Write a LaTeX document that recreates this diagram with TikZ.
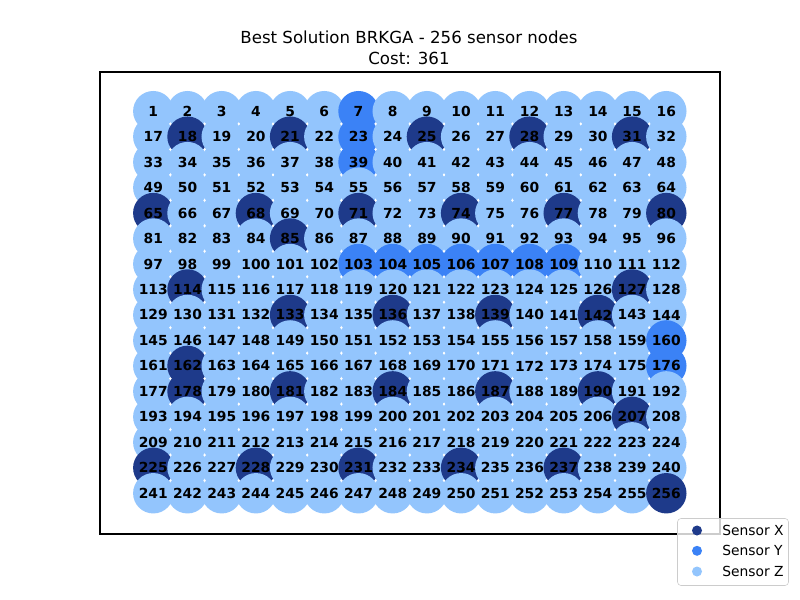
\documentclass[tikz,border=0pt]{standalone}
\usepackage{fontspec}
\setmainfont{DejaVu Sans}
\definecolor{sx}{HTML}{1E3A8A}
\definecolor{sy}{HTML}{3B82F6}
\definecolor{sz}{HTML}{93C5FD}
\begin{document}
\begin{tikzpicture}[x=0.01in,y=-0.01in,
  dot/.style={circle,inner sep=0pt,minimum size=0.404in,draw=none},
  lbl/.style={font=\fontsize{10}{12}\selectfont\bfseries,inner sep=0pt},
  ttl/.style={font=\fontsize{12}{14}\selectfont,inner sep=0pt},
  legdot/.style={circle,inner sep=0pt,minimum size=0.1in,draw=none},
  legtxt/.style={anchor=west,font=\fontsize{10}{12}\selectfont,inner sep=0pt}]
\useasboundingbox[fill=white] (0,0) rectangle (800,600);
\foreach \i in {18,21,25,28,31,65,68,71,74,77,80,85,114,127,133,136,139,142,162,178,181,184,187,190,207,225,228,231,234,237,256}
  {\expandafter\gdef\csname sc\i\endcsname{sx}}
\foreach \i in {7,23,39,103,104,105,106,107,108,109,160,176}
  {\expandafter\gdef\csname sc\i\endcsname{sy}}
\foreach \n in {1,...,256}{
  \pgfmathtruncatemacro\cc{mod(\n-1,16)}
  \pgfmathtruncatemacro\rr{div(\n-1,16)}
  \ifcsname sc\n\endcsname \edef\col{\csname sc\n\endcsname}\else\def\col{sz}\fi
  \node[dot,fill=\col] (c\n) at ({153.3+34.2*\cc},{111.2+25.47*\rr}) {};
}
\foreach \n in {1,...,256}{
  \node[lbl] (t\n) at (c\n) {\n};
}
\draw[line width=0.8pt] (100,72) rectangle (720,534);
\node[ttl] (title) at (409,37) {Best Solution BRKGA - 256 sensor nodes};
\node[ttl] (cost) at (409,58) {Cost: 361};
\draw[draw=black!20,fill=white,fill opacity=0.8,rounded corners=2.5pt] (677.5,518.5) rectangle (788.5,585.5);
\node[legdot,fill=sx] (lx) at (697,530.5) {};
\node[legdot,fill=sy] (ly) at (697,550.8) {};
\node[legdot,fill=sz] (lz) at (697,571.5) {};
\node[legtxt] (tx) at (722,530.5) {Sensor X};
\node[legtxt] (ty) at (722,550.8) {Sensor Y};
\node[legtxt] (tz) at (722,571.5) {Sensor Z};
\end{tikzpicture}
\end{document}
